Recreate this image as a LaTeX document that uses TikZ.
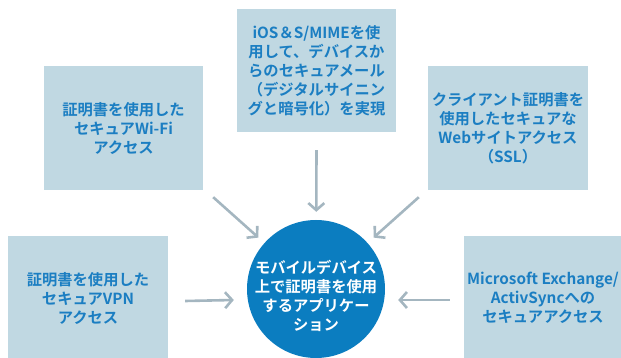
\documentclass[tikz,border=0pt]{standalone}
\usepackage{fontspec}
\newfontfamily\jp{Noto Sans CJK JP}[BoldFont={Noto Sans CJK JP Bold}]
\usetikzlibrary{arrows.meta,calc}
\definecolor{boxfill}{HTML}{C0D8E2}
\definecolor{txtblue}{HTML}{1B7EC2}
\definecolor{circblue}{HTML}{0B7DC0}
\definecolor{arrgray}{HTML}{A4B6C0}
\tikzset{
  box/.style={rectangle, fill=boxfill, inner sep=0pt, align=center, text=txtblue,
    font=\jp\bfseries\fontsize{15.3}{19}\selectfont},
  hub/.style={circle, fill=circblue, inner sep=0pt, minimum size=138pt},
  hubtext/.style={align=center, text=white, inner sep=0pt, font=\jp\bfseries\fontsize{15.3}{19}\selectfont},
  arr/.style={draw=arrgray, line width=2.6pt, -{Straight Barb[length=7pt,width=16pt,line width=2.6pt]}},
}
\begin{document}
\begin{tikzpicture}[x=1pt,y=-1pt]
\useasboundingbox (0,0) rectangle (621,358);
\clip (0,0) rectangle (621,358);
\node[box, minimum width=159pt, minimum height=123pt] (top) at (316.5,70.5)
  {iOS＆S/MIMEを使\\用して、デバイスか\\らのセキュアメール\\（デジタルサイニン\\グと暗号化）を実現};
\node[box, minimum width=159pt, minimum height=124pt] (lt) at (123.5,128)
  {証明書を使用した\\セキュアWi-Fi\\アクセス};
\node[box, minimum width=160pt, minimum height=124pt] (rt) at (508,128)
  {クライアント証明書を\\使用したセキュアな\\Webサイトアクセス\\（SSL）};
\node[box, minimum width=160pt, minimum height=124pt] (lb) at (88,298)
  {証明書を使用した\\セキュアVPN\\アクセス};
\node[box, minimum width=158pt, minimum height=124pt] (rb) at (543,298)
  {Microsoft Exchange/\\ActivSyncへの\\セキュアアクセス};
\node[hub] (circ) at (316,289) {};
\node[hubtext] (circtext) at (316,296)
  {モバイルデバイス\\上で証明書を使用\\するアプリケー\\ション};
\draw[arr, shorten >=8pt] ([shift={(0,18)}]top.south) -- (circ);
\draw[arr, shorten >=8pt] ([shift={(10,7)}]lt.south east) -- (circ);
\draw[arr, shorten >=8pt] ([shift={(-9,7)}]rt.south west) -- (circ);
\draw[arr] ([shift={(17,3)}]lb.east) -- ([shift={(-13,11)}]circ.west);
\draw[arr] ([shift={(-14,2)}]rb.west) -- ([shift={(13,11)}]circ.east);
\end{tikzpicture}
\end{document}
